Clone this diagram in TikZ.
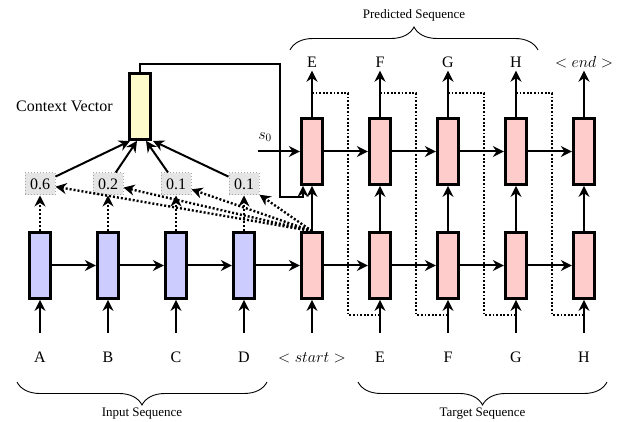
\documentclass[tikz,border=0pt]{standalone}
\usepackage{fix-cm}
\usepackage{fontspec}
\setmainfont{Liberation Serif}
\usetikzlibrary{positioning,arrows.meta,calc,decorations.pathreplacing}
\colorlet{encoderFill}{blue!20}
\colorlet{decoderFill}{red!20}
\colorlet{contextFill}{yellow!20}
\colorlet{weightFill}{gray!20}
\tikzstyle{cellBox}=[draw=black,line width=2.8pt,minimum width=21.5pt,minimum height=66pt,inner sep=0pt]
\tikzstyle{encoderCell}=[cellBox,fill=encoderFill]
\tikzstyle{decoderCell}=[cellBox,fill=decoderFill]
\tikzstyle{contextCell}=[cellBox,fill=contextFill]
\tikzstyle{weightBox}=[draw=gray!70,dotted,line width=1pt,fill=weightFill,minimum width=30pt,minimum height=22pt,inner sep=0pt]
\tikzstyle{tokenLabel}=[inner sep=3pt,text height=11pt,text depth=0pt]
\tikzstyle{flowArrow}=[line width=2pt,-{Stealth[length=11pt,width=11pt]}]
\tikzstyle{attnArrow}=[flowArrow,line width=2.4pt,dash pattern=on 2pt off 2pt]
\tikzstyle{feedbackLine}=[line width=1.8pt,dash pattern=on 1.8pt off 1.8pt]
\tikzstyle{seqBrace}=[decorate,decoration={brace,amplitude=23pt},line width=0.9pt]
\tikzstyle{seqLabel}=[font=\fontsize{13}{15}\selectfont]

\begin{document}
\begin{tikzpicture}[x=1pt,y=1pt,font=\fontsize{16}{19}\selectfont]
\newcommand{\Stepx}{68}
\useasboundingbox (0,0) rectangle (623,422);
        % encoder side
        \foreach \x/\t/\w in {1/A/0.6,2/B/0.2,3/C/0.1,4/D/0.1} {
                \node[encoderCell] (enc\x)
                at ({40+\Stepx*(\x-1)},156.5) {};
                \node[weightBox] (w\x)
                at ({40+\Stepx*(\x-1)},238) {\w};
                \node[tokenLabel] (in\x)
                at ({40+\Stepx*(\x-1)},65) {\t};
                \draw[flowArrow,shorten <=15.5pt] (in\x) -- (enc\x);
		}
        % decoder side
        \foreach \x/\t/\o in {1/{$<start>$}/E,2/E/F,3/F/G,4/G/H,5/H/{$<end>$}} {
                \node[decoderCell] (dl\x)
                at ({312+\Stepx*(\x-1)},156.5) {};
                \node[decoderCell] (du\x)
                at ({312+\Stepx*(\x-1)},270.5) {};
                \node[tokenLabel] (tin\x)
                at ({312+\Stepx*(\x-1)},65) {\t};
                \node[tokenLabel] (out\x)
                at ({312+\Stepx*(\x-1)},360) {\o};
                \draw[flowArrow,shorten <=15.5pt] (tin\x) -- (dl\x);
                \draw[flowArrow] (dl\x) -- (du\x);
                \draw[flowArrow] (du\x) -- (out\x);
		}
        \node[contextCell] (ctx)
        at (140,315.5) {};
        \node[left=15pt of ctx,inner sep=0pt] (ctxLabel) {Context Vector};
        \node (s0Label) at (265,285) {$s_0$};
        \coordinate (s0Start) at (258,270.5);
        % recurrent links
        \foreach \a/\b in {1/2,2/3,3/4}
                \draw[flowArrow] (enc\a) -- (enc\b);
        \draw[flowArrow] (enc4) -- (dl1);
        \foreach \a/\b in {1/2,2/3,3/4,4/5} {
                \draw[flowArrow] (dl\a) -- (dl\b);
                \draw[flowArrow] (du\a) -- (du\b);
                \draw[feedbackLine] ($(du\a.north)+(0,24)$) -| ($(dl\b.south)+(-32,-15)$) -- ($(dl\b.south)+(0,-15)$);
		}
        \draw[flowArrow] (s0Start) -- (du1);
        % attention
        \foreach \x in {1,...,4} {
                \draw[attnArrow] (enc\x) -- (w\x);
                \draw[attnArrow] (dl1.north) -- (w\x);
		}
        \foreach \x/\o in {1/-10,2/-3,3/6,4/13}
                \draw[flowArrow] (w\x) -- ($(ctx.south)+(\o,0)$);
        \draw[flowArrow] (ctx.north) -- ++(0,8) -| ($(du1.south west)+(-20,-11)$) -| ($(du1.south)+(-9,0)$);
        % braces
        \draw[seqBrace] (290,372) -- (538,372);
        \draw[seqBrace] (267,40) -- (17,40);
        \draw[seqBrace] (607,40) -- (358,40);
        \node[seqLabel] (predLabel) at (414,407) {Predicted Sequence};
        \node[seqLabel] (inputLabel) at (142,8) {Input Sequence};
        \node[seqLabel] (targetLabel) at (482.5,8) {Target Sequence};
\end{tikzpicture}
\end{document}
